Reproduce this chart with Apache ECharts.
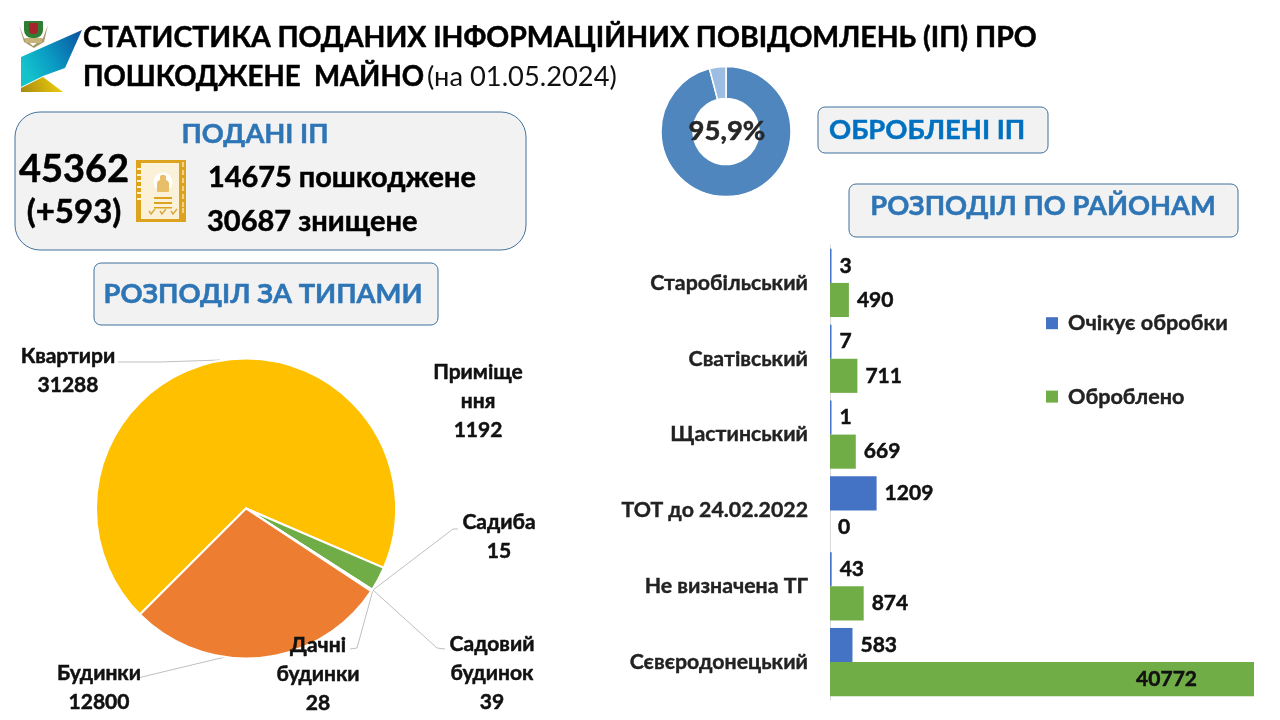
<!DOCTYPE html>
<html><head><meta charset="utf-8">
<style>html,body{margin:0;padding:0;background:#fff}#c{width:1280px;height:720px}</style>
<script src="https://cdn.jsdelivr.net/npm/echarts@6/dist/echarts.min.js"></script></head>
<body><div id="c"></div><script>
const districts=['Старобільський','Сватівський','Щастинський','ТОТ до 24.02.2022','Не визначена ТГ','Сєвєродонецький'];
const pending=[3,7,1,1209,43,583];
const processed=[490,711,669,0,874,40772];
const typeNames=['Квартири','Приміщення','Садиба','Садовий будинок','Дачні будинки','Будинки'];
const typeLabels=['Квартири','Приміще\nння','Садиба','Садовий\nбудинок','Дачні\nбудинки','Будинки'];
const typeValues=[31288,1192,15,39,28,12800];
const typeColors=['#FFC000','#70AD47','#A5A5A5','#5B9BD5','#4472C4','#ED7D31'];
const donutValues=[95.9,4.1];
const F='Lato, "Noto Sans", sans-serif';
const labelPos=[[68,371],[478,401],[499,537],[492,673],[318,674],[99,688]];
const labelLines=[[[118,362],[160,362],[220,360]],null,[[458,529],[453,529],[373,590]],[[445,649],[437,648],[373,590]],[[350,649],[357,648],[373,590]],[[138,678],[150,675],[225,657]]];
const heavy={textBorderColor:'#111',textBorderWidth:0.5};
function txt(x,y,s,size,color,weight,align){const c=color||'#000';return {type:'text',z:10,style:{x,y,text:s,font:(weight||'bold')+' '+size+'px '+F,fill:c,stroke:weight==='normal'?null:c,lineWidth:weight==='normal'?0:0.5,textAlign:align||'left',textVerticalAlign:'middle'}};}
function box(x,y,w,h,r){return {type:'rect',z:1,shape:{x,y,width:w,height:h,r},style:{fill:'#F2F2F2',stroke:'#41719C',lineWidth:1}};}
function r(x,y,w,h,fill,z){return {type:'rect',z:z||6,shape:{x,y,width:w,height:h},style:{fill}};}
const spiral=[168,174,180,186,192,198].map(y=>r(137,y,8,2,'#FBF1D8',8));
const ticks=[162,170,178,186,194,202,208].map(y=>r(182,y,2,5,'#F3D48C',8));
const checks=[149,160,171].map(x=>({type:'polyline',z:8,shape:{points:[[x,211],[x+2,214],[x+6,209]]},style:{stroke:'#D9A93C',lineWidth:1.5,fill:null}}));
const chart=echarts.init(document.getElementById('c'),null,{renderer:'canvas'});
chart.setOption({animation:false,
 legend:{orient:'vertical',left:1041,top:307,itemGap:51,itemWidth:12,itemHeight:12,icon:'rect',data:['Очікує обробки','Оброблено'],textStyle:{fontFamily:F,fontWeight:'bold',fontSize:21.6,color:'#222',padding:[0,0,0,5],textBorderColor:'#222',textBorderWidth:0.4}},
 grid:{left:830,top:245,width:424,height:455},
 xAxis:{type:'value',min:0,max:11000,show:false},
 yAxis:{type:'category',inverse:true,data:districts,axisLine:{lineStyle:{color:'#D9D9D9'}},axisTick:{length:8,lineStyle:{color:'#D9D9D9'}},axisLabel:{margin:22,fontFamily:F,fontWeight:'bold',fontSize:21.3,color:'#222',textBorderColor:'#222',textBorderWidth:0.4}},
 series:[
 {type:'bar',name:'Очікує обробки',data:pending,barGap:0,barCategoryGap:'10%',barMinHeight:1.5,itemStyle:{color:'#4472C4'},label:{show:true,position:'right',distance:8,fontFamily:F,fontWeight:'bold',fontSize:21,color:'#111',...heavy}},
 {type:'bar',name:'Оброблено',data:processed.map(v=>v>11000?{value:v,label:{position:'insideRight',distance:57}}:v),itemStyle:{color:'#70AD47'},label:{show:true,position:'right',distance:8,fontFamily:F,fontWeight:'bold',fontSize:21,color:'#111',...heavy}},
 {type:'pie',center:[246,508.5],radius:[0,150],startAngle:-135,clockwise:true,silent:true,
  data:typeNames.map((n,i)=>({name:n,value:typeValues[i],itemStyle:{color:typeColors[i]},labelLine:{show:!!labelLines[i]}})),
  itemStyle:{borderColor:'#fff',borderWidth:2},
  label:{show:true,formatter:p=>typeLabels[p.dataIndex]+'\n'+p.value,fontFamily:F,fontWeight:'bold',fontSize:21,lineHeight:29,color:'#111',align:'center',...heavy},
  labelLine:{show:true,lineStyle:{color:'#BFBFBF',width:1}},
  labelLayout:p=>{const i=p.dataIndex,[x,y]=labelPos[i];return {x,y,align:'center',verticalAlign:'middle',hideOverlap:false,labelLinePoints:labelLines[i]||undefined};}},
 {type:'pie',center:[726,131.5],radius:[33,65],startAngle:90,silent:true,label:{show:false},labelLine:{show:false},
  data:donutValues.map((v,i)=>({value:v,itemStyle:{color:i?'#9DBDE3':'#4F86BD'}})),itemStyle:{borderColor:'#fff',borderWidth:1.5}}
 ],
 graphic:[
  box(15,112,511,138,25),box(94,263,344,62,7),box(818,107,230,46,7),box(849,184,389,53,7),
  txt(83,38,'СТАТИСТИКА ПОДАНИХ ІНФОРМАЦІЙНИХ ПОВІДОМЛЕНЬ (ІП) ПРО',28.4,'#000'),
  txt(83,77,'ПОШКОДЖЕНЕ  МАЙНО',27.6,'#000'),
  txt(427,77,'(на 01.05.2024)',27.3,'#111','normal'),
  txt(255,134,'ПОДАНІ ІП',27.3,'#2E75B6','bold','center'),
  txt(74,170,'45362',38,'#000','bold','center'),
  txt(74,212,'(+593)',33,'#000','bold','center'),
  txt(208,178,'14675 пошкоджене',28.9,'#000'),
  txt(207,222,'30687 знищене',29,'#000'),
  txt(263,294,'РОЗПОДІЛ ЗА ТИПАМИ',27.4,'#2E75B6','bold','center'),
  txt(829,130,'ОБРОБЛЕНІ ІП',27.4,'#0070C0'),
  txt(1043,206,'РОЗПОДІЛ ПО РАЙОНАМ',27.3,'#2E75B6','bold','center'),
  txt(727,131,'95,9%',27.5,'#262626','bold','center'),
  {type:'polygon',z:5,shape:{points:[[82,30],[21,57],[21,87],[43,76],[65,68]]},style:{fill:new echarts.graphic.LinearGradient(1,0,0,0.6,[{offset:0,color:'#0B4F9E'},{offset:.6,color:'#0A9CC4'},{offset:1,color:'#14C4CC'}])}},
  {type:'polygon',z:5,shape:{points:[[21,92],[21,88],[43,77],[63,92]]},style:{fill:new echarts.graphic.LinearGradient(0,1,1,0,[{offset:0,color:'#A88A10'},{offset:1,color:'#F2D20C'}])}},
  {type:'polygon',z:5,shape:{points:[[19,25],[24,38],[33,46],[43,38],[48,25],[44,42],[34,48],[24,42]]},style:{fill:'#A89A6A'}},
  {type:'rect',z:6,shape:{x:24,y:21,width:19,height:17,r:[1,1,8,8]},style:{fill:'#2E7D32'}},
  {type:'rect',z:7,shape:{x:29,y:23,width:9,height:11,r:[0,0,4,4]},style:{fill:'#A8232A'}},
  {type:'rect',z:7,shape:{x:25,y:38,width:17,height:5},style:{fill:'#C7B37A'}},
  {type:'rect',z:5,shape:{x:136,y:160,width:50,height:62},style:{fill:'#DDA21E'}},
  {type:'rect',z:6,shape:{x:141,y:163,width:38,height:56},style:{fill:'#FBF1D8'}},
  {type:'circle',z:7,shape:{cx:163,cy:182,r:9.5},style:{fill:'#fff'}},
  {type:'rect',z:8,shape:{x:157,y:180,width:12,height:12,r:[4,4,1,1]},style:{fill:'#E9BE68'}},
  {type:'circle',z:8,shape:{cx:163,cy:178,r:3.2},style:{fill:'#E9BE68'}},
  r(154,197,18,2,'#DDA21E',8),r(154,202,18,2,'#DDA21E',8),r(154,207,18,1.5,'#DDA21E',8),
  ...spiral,...ticks,...checks
 ]
});
</script></body></html>
